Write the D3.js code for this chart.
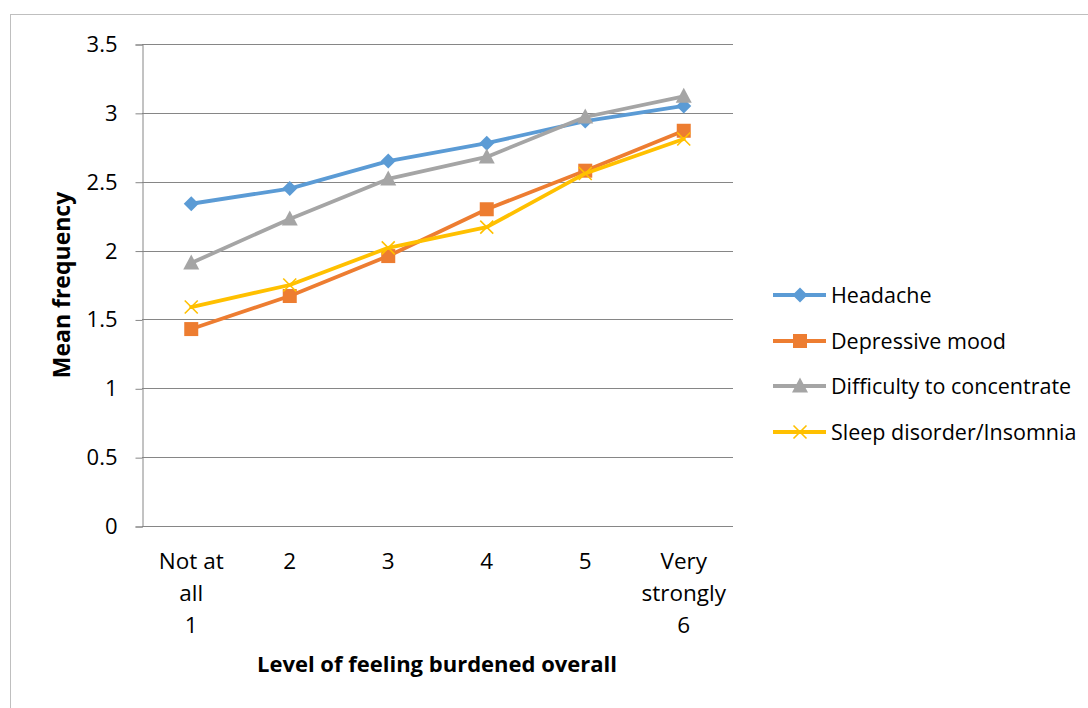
<!DOCTYPE html>
<html>
<head>
<meta charset="utf-8">
<script src="https://cdn.jsdelivr.net/npm/d3@7"></script>
<style>
  body { margin: 0; background: #fff; }
  text { font-family: "Open Sans", "Noto Sans", sans-serif; fill: #000; }
</style>
</head>
<body>
<svg id="chart" width="1088" height="708"></svg>
<script>
var categories = ["Not at all 1", "2", "3", "4", "5", "Very strongly 6"];
var catLines = [["Not at", "all", "1"], ["2"], ["3"], ["4"], ["5"], ["Very", "strongly", "6"]];
var yTicks = [0, 0.5, 1, 1.5, 2, 2.5, 3, 3.5];

var headache = [2.34, 2.45, 2.65, 2.78, 2.94, 3.05];
var depressive = [1.43, 1.67, 1.96, 2.30, 2.58, 2.87];
var concentrate = [1.91, 2.23, 2.52, 2.68, 2.97, 3.12];
var sleep = [1.59, 1.75, 2.02, 2.17, 2.56, 2.81];

var seriesNames = ["Headache", "Depressive mood", "Difficulty to concentrate", "Sleep disorder/Insomnia"];
var seriesValues = [headache, depressive, concentrate, sleep];
var colors = ["#5B9BD5", "#ED7D31", "#A5A5A5", "#FFC000"];
var markers = ["diamond", "square", "triangle", "x"];

var svg = d3.select("#chart");

// outer chart border
svg.append("rect").attr("x", 10.5).attr("y", 14.5).attr("width", 1100).attr("height", 720)
    .attr("fill", "none").attr("stroke", "#BFBFBF").attr("stroke-width", 1);

var plot = {l: 142, r: 733, t: 44, b: 526};

var x = d3.scaleBand().domain(categories).range([plot.l, plot.r]);
var y = d3.scaleLinear().domain([0, 3.5]).range([plot.b, plot.t]);

// gridlines
svg.append("g").selectAll("line").data(yTicks).enter().append("line")
    .attr("x1", plot.l).attr("x2", plot.r)
    .attr("y1", function(d){ return Math.round(y(d)) + 0.5; })
    .attr("y2", function(d){ return Math.round(y(d)) + 0.5; })
    .attr("stroke", "#868686").attr("stroke-width", 1);

// y axis
var yAxis = svg.append("g").attr("transform", "translate(" + (plot.l + 0.5) + ",0.5)")
    .call(d3.axisLeft(y).tickValues(yTicks).tickSize(7).tickPadding(18).tickFormat(d3.format("")));
yAxis.select(".domain").attr("stroke", "#868686");
yAxis.selectAll(".tick line").attr("stroke", "#868686");
yAxis.selectAll(".tick text").attr("font-size", "22px").attr("font-family", null).attr("fill", "#000");

// x axis line
svg.append("line").attr("x1", plot.l).attr("x2", plot.r)
    .attr("y1", plot.b + 0.5).attr("y2", plot.b + 0.5)
    .attr("stroke", "#868686");

// x labels
var xl = svg.append("g").selectAll("text").data(categories).enter().append("text")
    .attr("text-anchor", "middle").attr("font-size", "22.5px")
    .attr("x", function(d){ return x(d) + x.bandwidth() / 2; })
    .attr("y", 569);
xl.each(function(d, i){
    var t = d3.select(this);
    catLines[i].forEach(function(s, j){
        t.append("tspan").attr("x", x(d) + x.bandwidth() / 2).attr("dy", j === 0 ? 0 : 32).text(s);
    });
});

// axis titles
svg.append("text").attr("x", 437).attr("y", 672).attr("text-anchor", "middle")
    .attr("font-size", "22px").attr("font-weight", "bold").text("Level of feeling burdened overall");
svg.append("text").attr("transform", "translate(70,285) rotate(-90)").attr("text-anchor", "middle")
    .attr("font-size", "23px").attr("font-weight", "bold").text("Mean frequency");

function drawMarker(g, type, color) {
    if (type === "diamond") {
        g.append("path").attr("d", "M0,-7.5L7.5,0L0,7.5L-7.5,0Z").attr("fill", color);
    } else if (type === "square") {
        g.append("rect").attr("x", -7).attr("y", -7).attr("width", 14).attr("height", 14).attr("fill", color);
    } else if (type === "triangle") {
        g.append("path").attr("d", "M0,-8.5L8,6.5L-8,6.5Z").attr("fill", color);
    } else {
        g.append("path").attr("d", "M-6.5,-6.5L6.5,6.5M-6.5,6.5L6.5,-6.5").attr("stroke", color).attr("stroke-width", 1.6);
    }
}

var line = d3.line()
    .x(function(d, i){ return x(categories[i]) + x.bandwidth() / 2; })
    .y(function(d){ return y(d); });

seriesValues.forEach(function(vals, s){
    svg.append("path").datum(vals).attr("d", line)
        .attr("fill", "none").attr("stroke", colors[s]).attr("stroke-width", 3.8)
        .attr("stroke-linejoin", "round").attr("stroke-linecap", "round");
    vals.forEach(function(v, i){
        var g = svg.append("g").attr("transform", "translate(" + (x(categories[i]) + x.bandwidth() / 2) + "," + y(v) + ")");
        drawMarker(g, markers[s], colors[s]);
    });
});

// legend
var legY = [295, 341, 386, 432];
seriesNames.forEach(function(name, s){
    var g = svg.append("g").attr("transform", "translate(0," + legY[s] + ")");
    g.append("line").attr("x1", 773).attr("x2", 826).attr("y1", 0).attr("y2", 0)
        .attr("stroke", colors[s]).attr("stroke-width", 3.8);
    var m = g.append("g").attr("transform", "translate(800,0)");
    drawMarker(m, markers[s], colors[s]);
    g.append("text").attr("x", 831).attr("y", 8).attr("font-size", "21.5px").text(name);
});
</script>
</body>
</html>
